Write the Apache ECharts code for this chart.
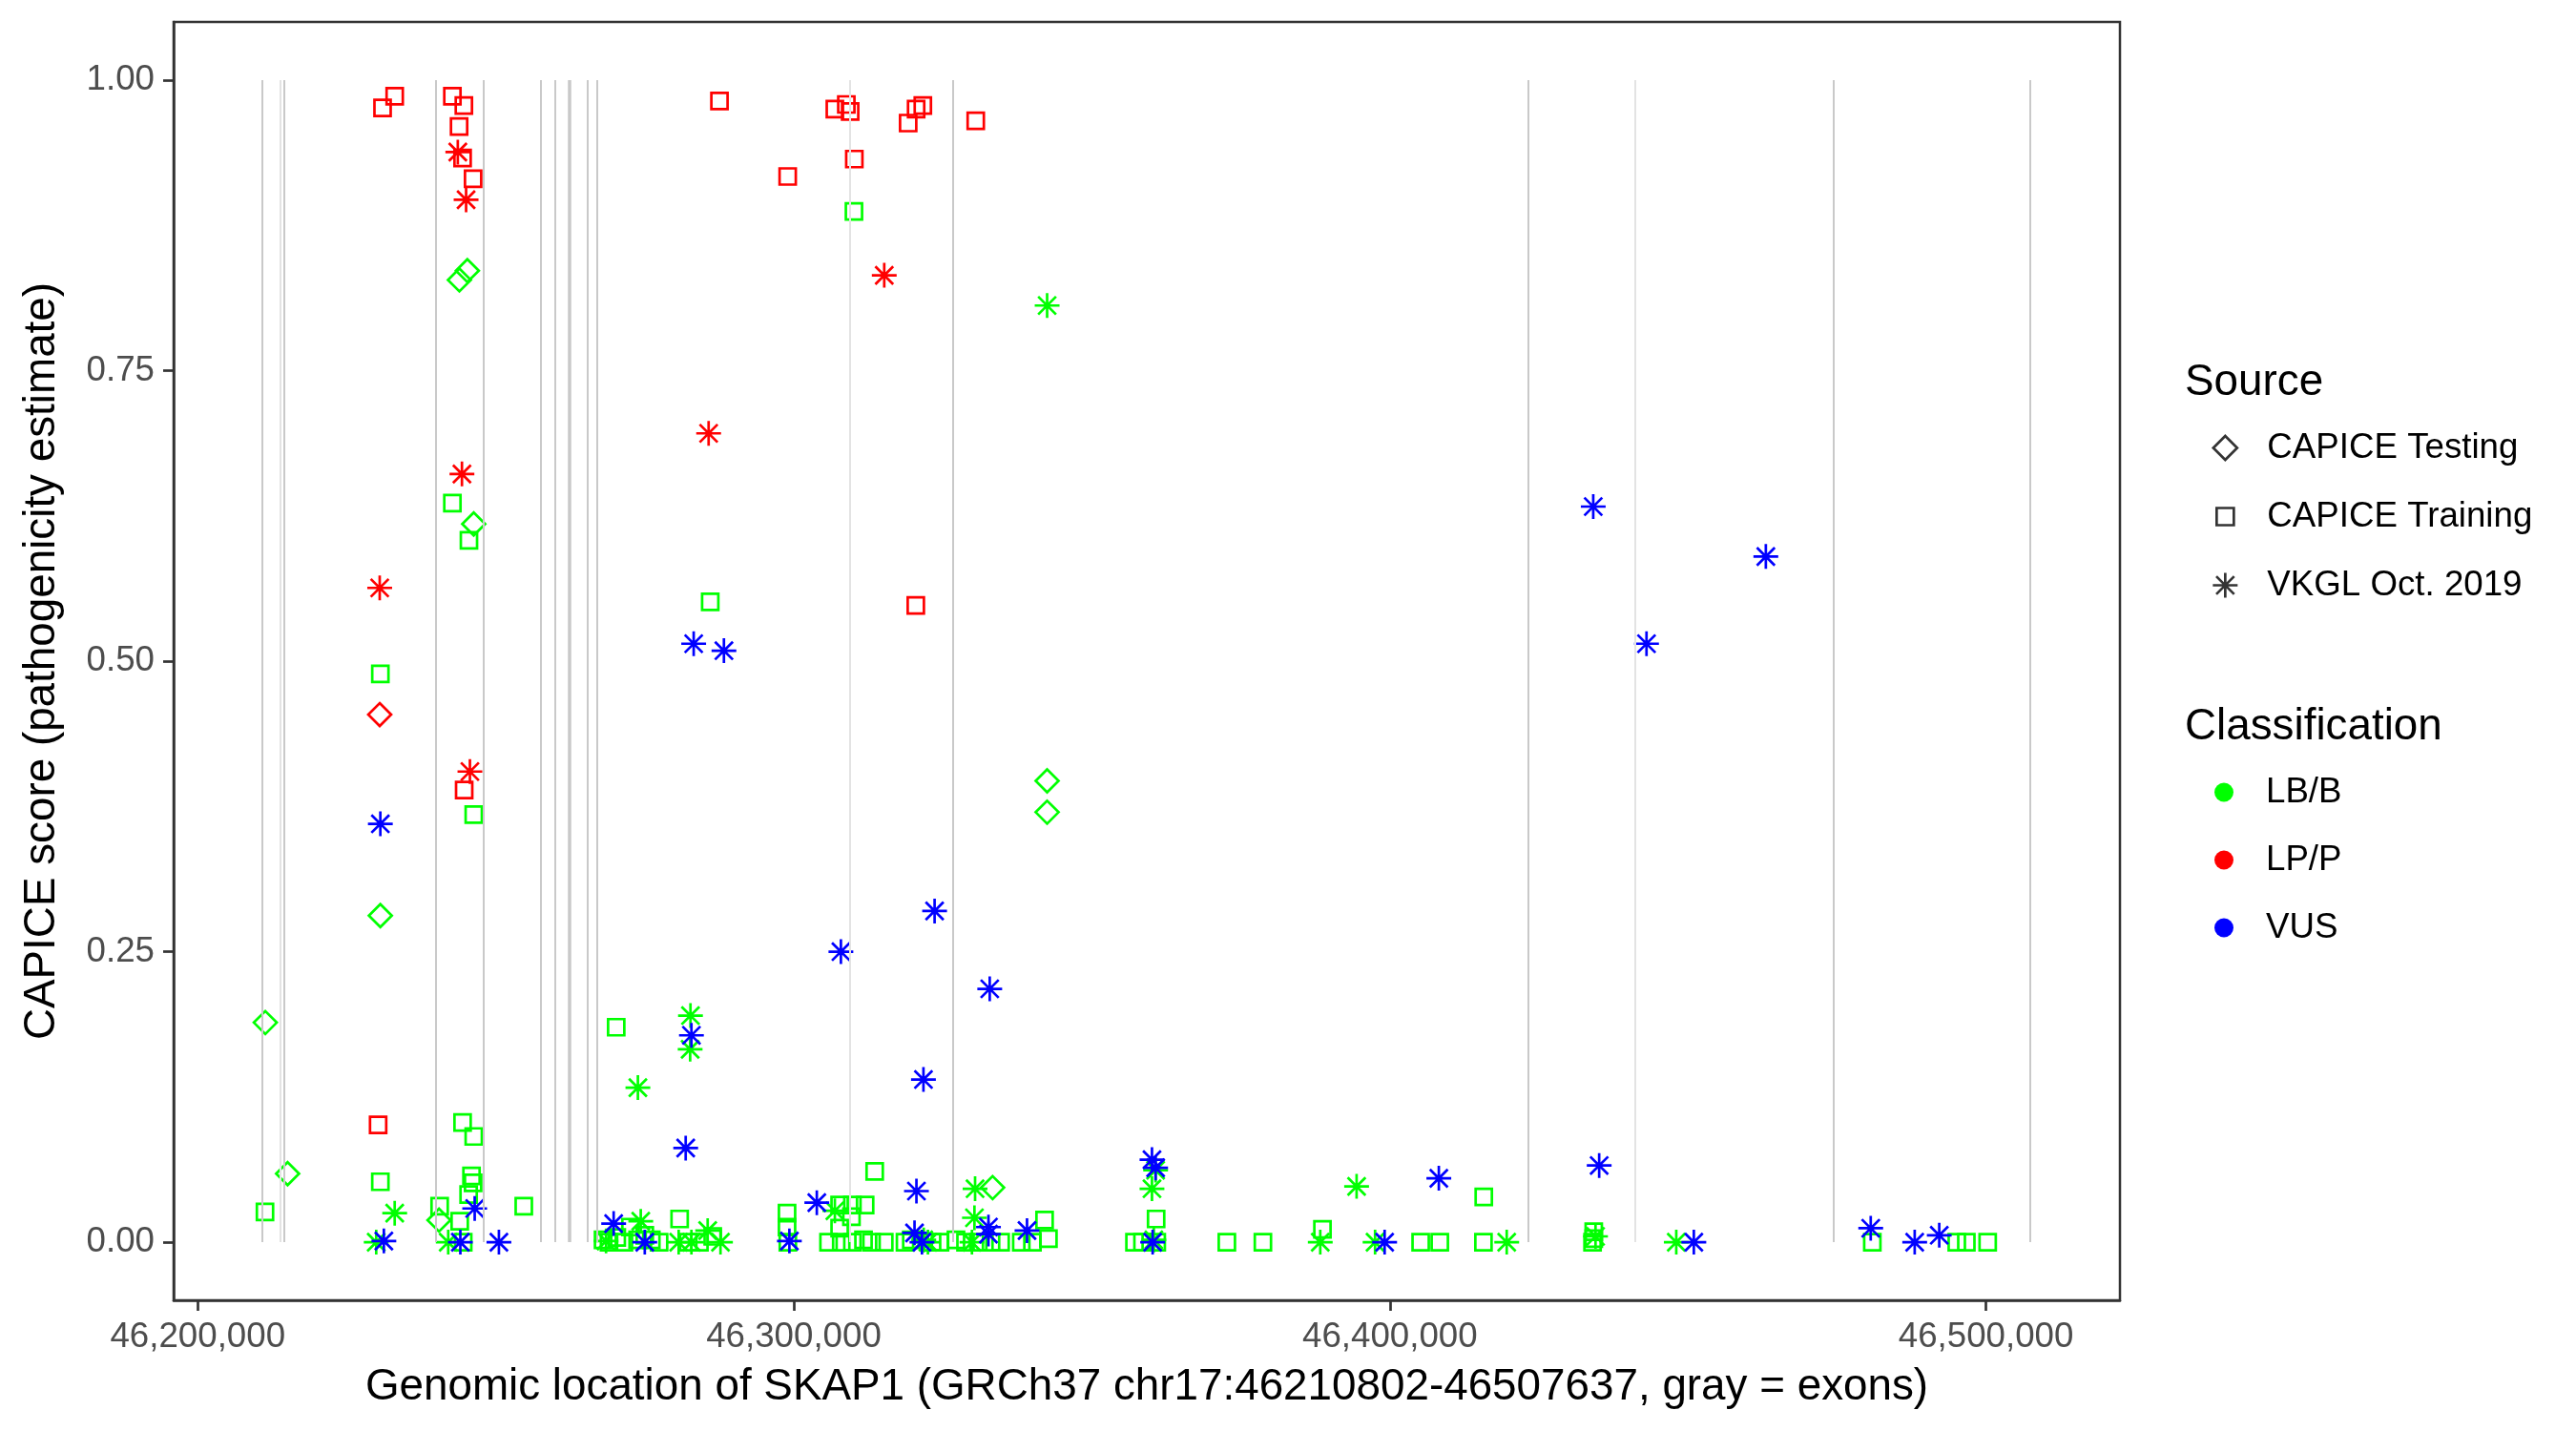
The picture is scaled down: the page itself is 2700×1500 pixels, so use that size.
<!DOCTYPE html>
<html>
<head>
<meta charset="utf-8">
<script src="https://cdn.jsdelivr.net/npm/echarts@6/dist/echarts.min.js"></script>
<style>
html,body{margin:0;padding:0;background:#fff;}
#chart{width:2700px;height:1500px;}
</style>
</head>
<body>
<div id="chart"></div>
<script>
// ---------- data ----------
const xTicks = [46200000, 46300000, 46400000, 46500000];
const yTicks = [0, 0.25, 0.5, 0.75, 1];

const exonLines = [46210860, 46214437, 46239894, 46248011, 46257587, 46259945, 46265399, 46267003, 46326612, 46423243, 46474462, 46507394];
const exonLinesLight = [46213843, 46309448, 46441096];
const exonLinesWide = [46262352];

const testingLBB = [
  [46211336, 0.189], [46215079, 0.059], [46230638, 0.281], [46240477, 0.019], [46243899, 0.828],
  [46245236, 0.836], [46246305, 0.618], [46333352, 0.047], [46342497, 0.397], [46342497, 0.370]
];
const testingLPP = [[46230530, 0.454]];

const trainingLPP = [
  [46231010, 0.976], [46233044, 0.986], [46242726, 0.986], [46244648, 0.978], [46243846, 0.960],
  [46244434, 0.933], [46246198, 0.915], [46244701, 0.389], [46230264, 0.101],
  [46287531, 0.982], [46306888, 0.975], [46308813, 0.979], [46309454, 0.973], [46321645, 0.978],
  [46320522, 0.975], [46319187, 0.963], [46330523, 0.965], [46310152, 0.932], [46298973, 0.917], [46320468, 0.548]
];

const trainingLBB = [
  [46242726, 0.636], [46245503, 0.604], [46230638, 0.489], [46246305, 0.368], [46270206, 0.185],
  [46310092, 0.887], [46285980, 0.551],
  [46244434, 0.103], [46246305, 0.091], [46230638, 0.052], [46245931, 0.057], [46246198, 0.051],
  [46245450, 0.041], [46211283, 0.026], [46240584, 0.031], [46243952, 0.018], [46254700, 0.031], [46244540, 0.000],
  [46268000, 0.002], [46269000, 0.000], [46270300, 0.004], [46271500, 0.000], [46272600, 0.013],
  [46273800, 0.002], [46275000, 0.006], [46276100, 0.002], [46277400, 0.000],
  [46280847, 0.020], [46282290, 0.000], [46284167, 0.000], [46286400, 0.005],
  [46298866, 0.025], [46298866, 0.013], [46299000, 0.000],
  [46307690, 0.032], [46309832, 0.032], [46311966, 0.032], [46309672, 0.022], [46307690, 0.012], [46313570, 0.061],
  [46305823, 0.000], [46307956, 0.000], [46309832, 0.000], [46311694, 0.002], [46313041, 0.000],
  [46315174, 0.000], [46318655, 0.000], [46319714, 0.002], [46323197, 0.000], [46324528, 0.000],
  [46327205, 0.002], [46328810, 0.000], [46330942, 0.000], [46333092, 0.000], [46334696, 0.000],
  [46338161, 0.000], [46340038, 0.000], [46342717, 0.003],
  [46342069, 0.019],
  [46357155, 0.000], [46358500, 0.000], [46360890, 0.000], [46360784, 0.020],
  [46372650, 0.000], [46378697, 0.000], [46388690, 0.011], [46405164, 0.000], [46408372, 0.000],
  [46415751, 0.039], [46415698, 0.000], [46434200, 0.009], [46434200, 0.003], [46434000, 0.000],
  [46480935, 0.000], [46495105, 0.000], [46496710, 0.000], [46500288, 0.000]
];

const vkglLPP = [
  [46243632, 0.938], [46245023, 0.897], [46244327, 0.661], [46230530, 0.563], [46245664, 0.405],
  [46315174, 0.832], [46285711, 0.696]
];

const vkglVUS = [
  [46230638, 0.360], [46283204, 0.515], [46288277, 0.509], [46323621, 0.285], [46307903, 0.250],
  [46332870, 0.218], [46282825, 0.178], [46321751, 0.140], [46434118, 0.633], [46463072, 0.590], [46443053, 0.515],
  [46231228, 0.001], [46244060, 0.000], [46246465, 0.029], [46250529, 0.000], [46269778, 0.016],
  [46275000, 0.000], [46299260, 0.001],
  [46281863, 0.081], [46303860, 0.034], [46320575, 0.044], [46320254, 0.008], [46332657, 0.013],
  [46332657, 0.007], [46339125, 0.010], [46321500, 0.000],
  [46360089, 0.071], [46360700, 0.064], [46360200, 0.000], [46399120, 0.000], [46408212, 0.055], [46435113, 0.066],
  [46450993, 0.000], [46480668, 0.012], [46488045, 0.000], [46492164, 0.006]
];

const vkglLBB = [
  [46273844, 0.133], [46342497, 0.806], [46282665, 0.195], [46282611, 0.166], [46233044, 0.025],
  [46229944, 0.000], [46242027, 0.000], [46274324, 0.018], [46285550, 0.010], [46287700, 0.000],
  [46280686, 0.000], [46282825, 0.000], [46268500, 0.001],
  [46306888, 0.027], [46330412, 0.046], [46330305, 0.021], [46322500, 0.000], [46329885, 0.000], [46321800, 0.002],
  [46360089, 0.046], [46360700, 0.062], [46360400, 0.002],
  [46394417, 0.048], [46388321, 0.000], [46397516, 0.000], [46419601, 0.000], [46434500, 0.005], [46448047, 0.000]
];

const sourceNames = ['CAPICE Testing', 'CAPICE Training', 'VKGL Oct. 2019'];
const classNames = ['LB/B', 'LP/P', 'VUS'];

// ---------- styling ----------
const COLORS = {'LB/B': '#00FF00', 'LP/P': '#FF0000', 'VUS': '#0000FF'};
const FONT = 'Liberation Sans, Arial, Helvetica, sans-serif';
const STAR = 'path://M0,-1L0,1M-1,0L1,0M-0.72,-0.72L0.72,0.72M-0.72,0.72L0.72,-0.72';
const SHAPES = {
  'CAPICE Testing': {symbol: 'diamond', size: 24},
  'CAPICE Training': {symbol: 'rect', size: 17},
  'VKGL Oct. 2019': {symbol: STAR, size: 26}
};
const LW = 2.7;

function pointSeries(data, source, cls) {
  return {
    type: 'scatter',
    name: source + ' / ' + cls,
    data: data,
    symbol: SHAPES[source].symbol,
    symbolSize: SHAPES[source].size,
    symbolKeepAspect: true,
    itemStyle: {color: 'rgba(0,0,0,0)', borderColor: COLORS[cls], borderWidth: LW, opacity: 1},
    emphasis: {disabled: true},
    z: 3
  };
}

function exonSeries(list, color, width) {
  return {
    type: 'scatter',
    name: 'exons',
    data: [],
    silent: true,
    z: 1,
    markLine: {
      silent: true,
      symbol: ['none', 'none'],
      label: {show: false},
      animation: false,
      lineStyle: {color: color, width: width, type: 'solid'},
      emphasis: {disabled: true},
      data: list.map(x => [{coord: [x, 0]}, {coord: [x, 1]}])
    }
  };
}

const series = [
  exonSeries(exonLinesLight, '#E3E3E3', 2),
  exonSeries(exonLines, '#C9C9C9', 2),
  exonSeries(exonLinesWide, '#C9C9C9', 3.5),
  pointSeries(trainingLBB, 'CAPICE Training', 'LB/B'),
  pointSeries(vkglLBB, 'VKGL Oct. 2019', 'LB/B'),
  pointSeries(testingLBB, 'CAPICE Testing', 'LB/B'),
  pointSeries(trainingLPP, 'CAPICE Training', 'LP/P'),
  pointSeries(vkglLPP, 'VKGL Oct. 2019', 'LP/P'),
  pointSeries(testingLPP, 'CAPICE Testing', 'LP/P'),
  pointSeries(vkglVUS, 'VKGL Oct. 2019', 'VUS')
];
// legend-only series
sourceNames.forEach(n => series.push({
  type: 'scatter', name: n, data: [], symbol: SHAPES[n].symbol, symbolKeepAspect: true,
  itemStyle: {color: 'rgba(0,0,0,0)', borderColor: '#000000', borderWidth: LW}
}));
classNames.forEach(n => series.push({
  type: 'scatter', name: n, data: [], symbol: 'circle',
  itemStyle: {color: COLORS[n]}
}));

const legendText = (pad) => ({fontSize: 36.7, color: '#000', fontFamily: FONT, padding: [0, 0, 0, pad]});
const srcItemStyle = {color: 'rgba(0,0,0,0)', borderColor: '#000000', borderWidth: LW};

function makeAxisLine() { return {show: true, onZero: false, lineStyle: {color: '#333333', width: 2.5}}; }
function makeAxisTick(vals) { return {show: true, inside: false, length: 11, lineStyle: {color: '#333333', width: 2.7}, customValues: vals}; }

const option = {
  backgroundColor: '#ffffff',
  animation: false,
  grid: {left: 182, right: 478, top: 23, bottom: 137, show: true, borderColor: '#333333', borderWidth: 2.5, backgroundColor: 'transparent'},
  xAxis: {
    type: 'value',
    min: 46195960, max: 46522479,
    name: 'Genomic location of SKAP1 (GRCh37 chr17:46210802-46507637, gray = exons)',
    nameLocation: 'middle', nameGap: 68,
    nameTextStyle: {fontSize: 45.8, color: '#000', fontFamily: FONT},
    axisLine: makeAxisLine(),
    axisTick: makeAxisTick(xTicks),
    axisLabel: {fontSize: 36.7, color: '#4D4D4D', fontFamily: FONT, margin: 20, customValues: xTicks,
      formatter: v => Math.round(v).toLocaleString('en-US')},
    splitLine: {show: false}
  },
  yAxis: {
    type: 'value',
    min: -0.05, max: 1.05,
    name: 'CAPICE score (pathogenicity estimate)',
    nameLocation: 'middle', nameGap: 115, nameRotate: 90,
    nameTextStyle: {fontSize: 45.8, color: '#000', fontFamily: FONT},
    axisLine: makeAxisLine(),
    axisTick: makeAxisTick(yTicks),
    axisLabel: {fontSize: 36.7, color: '#4D4D4D', fontFamily: FONT, margin: 20, customValues: yTicks,
      formatter: v => v.toFixed(2)},
    splitLine: {show: false}
  },
  legend: [
    {data: [{name: 'CAPICE Testing', icon: 'diamond'}], orient: 'vertical', left: 2313.5, top: 446,
      itemWidth: 25, itemHeight: 25, selectedMode: false, textStyle: legendText(26.5), itemStyle: srcItemStyle},
    {data: [{name: 'CAPICE Training', icon: 'rect'}], orient: 'vertical', left: 2317, top: 518,
      itemWidth: 18, itemHeight: 18, selectedMode: false, textStyle: legendText(30), itemStyle: srcItemStyle},
    {data: [{name: 'VKGL Oct. 2019', icon: STAR}], orient: 'vertical', left: 2313, top: 590,
      itemWidth: 26, itemHeight: 26, selectedMode: false, textStyle: legendText(26), itemStyle: srcItemStyle},
    {data: classNames.map(n => ({name: n, icon: 'circle', itemStyle: {color: COLORS[n], opacity: 1}})),
      orient: 'vertical', left: 2316, top: 807,
      itemWidth: 20, itemHeight: 20, itemGap: 34, selectedMode: false, textStyle: legendText(29),
      itemStyle: {borderWidth: 0}}
  ],
  graphic: [
    {type: 'text', left: 2290, top: 397 - 19, style: {text: 'Source', fontSize: 45.8, fill: '#000', fontFamily: FONT}},
    {type: 'text', left: 2290, top: 758 - 19, style: {text: 'Classification', fontSize: 45.8, fill: '#000', fontFamily: FONT}}
  ],
  series: series
};

const chart = echarts.init(document.getElementById('chart'), null, {renderer: 'canvas', devicePixelRatio: 1});
chart.setOption(option);
</script>
</body>
</html>
